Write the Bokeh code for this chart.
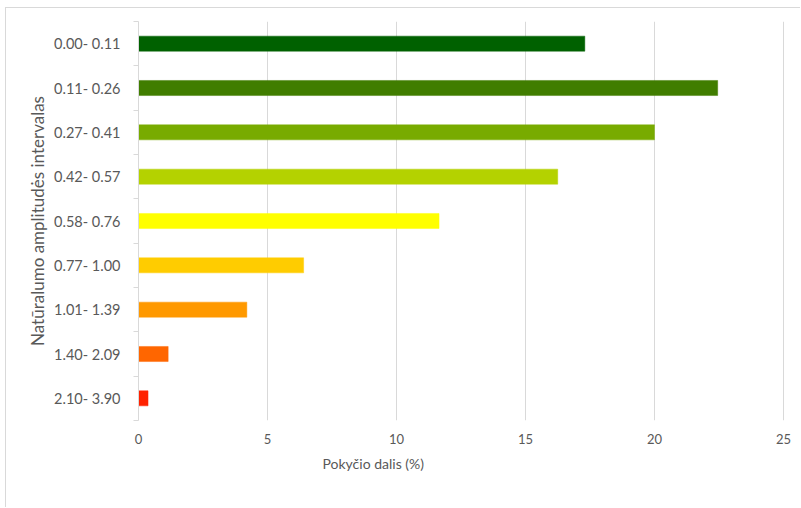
from bokeh.plotting import figure
from bokeh.models import FixedTicker, Range1d, Title
from bokeh.embed import file_html
from bokeh.resources import INLINE

categories = ["0.00- 0.11", "0.11- 0.26", "0.27- 0.41", "0.42- 0.57", "0.58- 0.76",
              "0.77- 1.00", "1.01- 1.39", "1.40- 2.09", "2.10- 3.90"]
values = [17.3, 22.45, 20.0, 16.25, 11.65, 6.4, 4.2, 1.15, 0.37]
colors = ["#006100", "#407d00", "#78ab00", "#b4d200", "#ffff00",
          "#ffcc00", "#ff9900", "#ff6600", "#ff2200"]
x_ticks = [0, 5, 10, 15, 20, 25]

n = len(categories)
ypos = [n - 1 - i + 0.5 for i in range(n)]

OX, OY = 6, 8          # canvas offset inside the page (outer chart frame)
W, H = 801 - OX, 508 - OY
FL, FT = 138 - OX, 21 - OY
FR = (801) - 784
FB = 508 - 420
p = figure(width=W, height=H, output_backend="svg", toolbar_location=None,
           x_range=Range1d(0, 25.04), y_range=Range1d(0, n),
           min_border_left=FL, min_border_right=FR, min_border_top=FT, min_border_bottom=FB,
           margin=(OY - 1, 0, 0, OX - 1),
           styles={"border-left": "1px solid #d9d9d9", "border-top": "1px solid #d9d9d9"})
p.outline_line_color = None
p.background_fill_color = "white"
p.border_fill_color = "white"

p.hbar(y=ypos, right=values, left=0, height=0.34, fill_color=colors,
       line_color=colors, line_alpha=0.45, line_width=1)

FONT = "Lato"
GREY = "#595959"

ya = p.yaxis[0]
ya.ticker = FixedTicker(ticks=ypos, minor_ticks=list(range(n + 1)))
ya.major_label_overrides = {y: c for y, c in zip(ypos, categories)}
ya.major_tick_line_color = None
ya.major_tick_out = 0
ya.major_tick_in = 0
ya.minor_tick_line_color = "#d9d9d9"
ya.minor_tick_out = 5
ya.minor_tick_in = 0
ya.axis_line_color = "#d9d9d9"
ya.major_label_text_font = FONT
ya.major_label_text_font_size = "14.5px"
ya.major_label_text_color = GREY
ya.major_label_standoff = 13
ya.axis_label = "Natūralumo amplitudės intervalas"
ya.axis_label_text_font = FONT
ya.axis_label_text_font_size = "17px"
ya.axis_label_text_font_style = "normal"
ya.axis_label_text_color = GREY
ya.axis_label_standoff = 3

xa = p.xaxis[0]
xa.ticker = FixedTicker(ticks=x_ticks)
xa.axis_line_color = None
xa.major_tick_line_color = None
xa.minor_tick_line_color = None
xa.major_tick_out = 0
xa.major_label_text_font = FONT
xa.major_label_text_font_size = "13px"
xa.major_label_text_color = GREY
xa.major_label_standoff = 13

p.xgrid.ticker = FixedTicker(ticks=x_ticks)
p.xgrid.grid_line_color = "#d9d9d9"
p.ygrid.grid_line_color = None

p.add_layout(Title(text="Pokyčio dalis (%)", align="left", offset=322 - 138,
                   text_font=FONT, text_font_size="14px", text_font_style="normal",
                   text_color=GREY, standoff=12), "below")

open("out.html", "w").write(file_html(p, INLINE))
